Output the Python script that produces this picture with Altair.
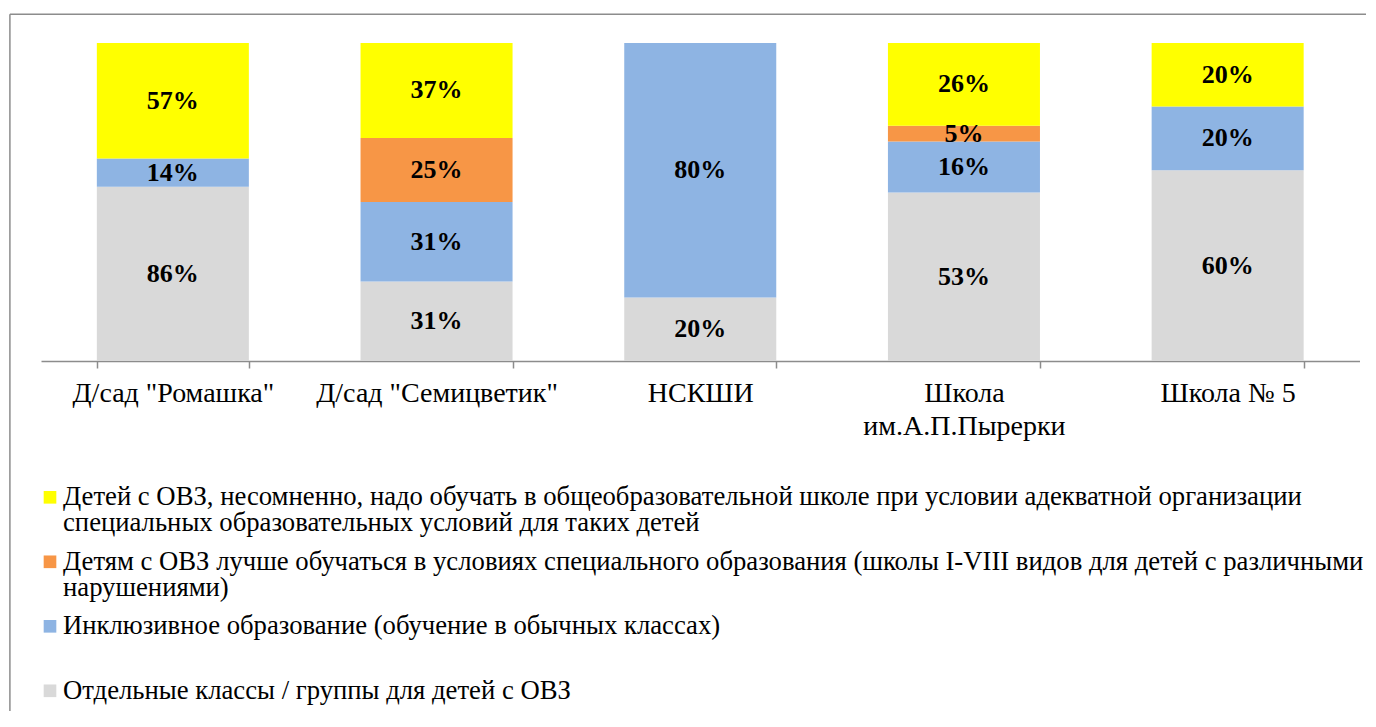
import altair as alt
import pandas as pd

# ---------------- data ----------------
categories = ['Д/сад "Ромашка"', 'Д/сад "Семицветик"', 'НСКШИ',
              'Школа им.А.П.Пырерки', 'Школа № 5']

series_names = [
    "Отдельные классы / группы для детей с ОВЗ",
    "Инклюзивное образование (обучение в обычных классах)",
    "Детям с ОВЗ лучше обучаться в условиях специального образования "
    "(школы I-VIII видов для детей с различными нарушениями)",
    "Детей с ОВЗ, несомненно, надо обучать в общеобразовательной школе "
    "при условии адекватной организации специальных образовательных "
    "условий для таких детей",
]
series_colors = ["#D9D9D9", "#8EB4E3", "#F79646", "#FFFF00"]

values_separate = [86, 31, 20, 53, 60]
values_inclusive = [14, 31, 80, 16, 20]
values_special = [0, 25, 0, 5, 0]
values_general = [57, 37, 0, 26, 20]

# legend text, wrapped as in the picture (legend is listed top to bottom)
legend_order = [3, 2, 1, 0]
legend_lines = {
    3: ["Детей с ОВЗ, несомненно, надо обучать в общеобразовательной школе при условии адекватной организации",
        "специальных образовательных условий для таких детей"],
    2: ["Детям с ОВЗ лучше обучаться в условиях специального образования (школы I-VIII видов для детей с различными",
        "нарушениями)"],
    1: ["Инклюзивное образование (обучение в обычных классах)"],
    0: ["Отдельные классы / группы для детей с ОВЗ"],
}

# ---------------- layout constants ----------------
W = 1318.5
H = 318
LH = 352
FONT = "Liberation Serif, Times New Roman, serif"
LEG_FS = 26.7
LEG_LINE = 26

all_values = [values_separate, values_inclusive, values_special, values_general]
rows = []
for si, vals in enumerate(all_values):
    for ci, v in enumerate(vals):
        if v:
            rows.append({"cat": categories[ci], "series": series_names[si],
                         "order": si, "value": v})
df = pd.DataFrame(rows)

color_scale = alt.Scale(domain=series_names, range=series_colors)

base = alt.Chart(df).transform_stack(
    stack="value", groupby=["cat"],
    sort=[alt.SortField("order", order="ascending")],
    offset="normalize", as_=["v0", "v1"],
).transform_calculate(
    mid="(datum.v0 + datum.v1) / 2",
    label="datum.value + '%'",
)

xenc = alt.X(
    "cat:N", sort=categories,
    scale=alt.Scale(paddingInner=0.4235, paddingOuter=0.21175),
    axis=alt.Axis(
        title=None, labelAngle=0, labelFont=FONT, labelFontSize=28,
        labelColor="#000000", labelPadding=11, labelLineHeight=33,
        labelExpr="length(datum.label) > 19 ? split(datum.label, ' ') : datum.label",
        domainColor="#8C8C8C", domainWidth=1.5, tickColor="#8C8C8C",
        tickWidth=1.5, tickSize=7, tickBand="extent", grid=False,
        labelLimit=400,
    ),
)
yscale = alt.Scale(domain=[0, 1])

bars = base.mark_bar(strokeWidth=0).encode(
    x=xenc,
    y=alt.Y("v0:Q", scale=yscale, axis=None),
    y2="v1:Q",
    color=alt.Color("series:N", scale=color_scale, legend=None),
)

labels = base.mark_text(font=FONT, fontSize=26, fontWeight="bold",
                        color="#000000", baseline="middle").encode(
    x=alt.X("cat:N", sort=categories),
    y=alt.Y("mid:Q", scale=yscale, axis=None),
    text="label:N",
)

frame_src = pd.DataFrame({"k": [0]})
frame_top = alt.Chart(frame_src).mark_rule(color="#8C8C8C", strokeWidth=1.5).encode(
    x=alt.value(-31.1), x2=alt.value(1325), y=alt.value(-28.7))
frame_left = alt.Chart(frame_src).mark_rule(color="#8C8C8C", strokeWidth=1.5).encode(
    x=alt.value(-31.1), y=alt.value(-28.7), y2=alt.value(H + 350))

main = alt.layer(bars, labels, frame_top, frame_left).properties(width=W, height=H)

# ---------------- hand-built legend ----------------
top_abs = 42.7 + H
leg_rows = []
for slot, si in enumerate(legend_order):
    center = 497 + slot * 64.5 - top_abs
    leg_rows.append({
        "series": series_names[si],
        "text": "|".join(legend_lines[si]),
        "ly": center,
        "ty": center - 0.49 * LEG_FS,
    })
leg_df = pd.DataFrame(leg_rows)
ly_scale = alt.Scale(domain=[0, LH], range=[0, LH])

leg_base = alt.Chart(leg_df)
leg_sq = leg_base.mark_square(size=160, opacity=1, strokeWidth=0).encode(
    x=alt.value(9.0),
    y=alt.Y("ly:Q", scale=ly_scale, axis=None),
    color=alt.Color("series:N", scale=color_scale, legend=None),
)
leg_txt = leg_base.transform_calculate(
    lines="split(datum.text, '|')"
).mark_text(font=FONT, fontSize=LEG_FS, align="left", baseline="top",
            lineHeight=LEG_LINE, color="#000000").encode(
    x=alt.value(22),
    y=alt.Y("ty:Q", scale=ly_scale, axis=None),
    text="lines:N",
)
legend = alt.layer(leg_sq, leg_txt).properties(width=W, height=LH)

chart = alt.vconcat(main, legend, spacing=0, bounds="flush").properties(
    padding={"left": 1, "top": 5, "right": 0, "bottom": 0},
    background="#FFFFFF",
).configure(font=FONT).configure_view(strokeWidth=0, stroke=None)

chart.save("out.html", embed_options={"renderer": "svg", "actions": False})
